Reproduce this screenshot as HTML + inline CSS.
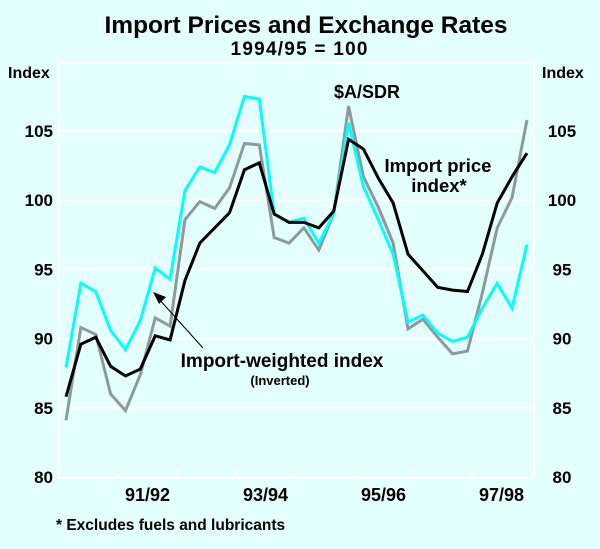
<!DOCTYPE html>
<html><head><meta charset="utf-8"><style>
body{margin:0;background:#e4ffff;}
svg text{font-family:"Liberation Sans",sans-serif;fill:#000;}
</style></head><body>
<svg width="600" height="544" viewBox="0 0 600 544">
<rect width="600" height="544" fill="#e4ffff"/>
<text x="306" y="33" text-anchor="middle" font-size="24.5" font-weight="bold">Import Prices and Exchange Rates</text>
<text x="299" y="55" text-anchor="middle" font-size="19" font-weight="bold" textLength="137">1994/95 = 100</text>
<text x="8" y="78" font-size="16" font-weight="bold">Index</text>
<text x="542" y="78" font-size="16" font-weight="bold">Index</text>
<g id="grid"></g>
<g id="series"></g>
<g id="labels"></g>
<text x="367" y="98" text-anchor="middle" font-size="18" font-weight="bold">$A/SDR</text>
<text x="438" y="172" text-anchor="middle" font-size="18.5" font-weight="bold">Import price</text>
<text x="439" y="192" text-anchor="middle" font-size="18.5" font-weight="bold">index*</text>
<text x="282" y="367" text-anchor="middle" font-size="19" font-weight="bold">Import-weighted index</text>
<text x="280" y="385" text-anchor="middle" font-size="13" font-weight="bold">(Inverted)</text>
<line x1="203" y1="348" x2="158" y2="298" stroke="#000" stroke-width="1"/>
<polygon points="153,292 166,297 159,304" fill="#000"/>
<text x="56" y="530" font-size="15.5" font-weight="bold">* Excludes fuels and lubricants</text>
</svg>
<script>
const yTicks=[80,85,90,95,100,105];
const xLabels=["91/92","93/94","95/96","97/98"];
const xLabelYears=[1.5,3.5,5.5,7.5];
const cyan=[87.9,94.0,93.4,90.6,89.2,91.3,95.1,94.3,100.7,102.4,102.0,104.0,107.5,107.3,99.0,98.4,98.7,96.9,99.0,105.6,101.0,98.6,96.1,91.2,91.7,90.4,89.8,90.1,92.2,94.0,92.2,96.8];
const gray=[84.1,90.8,90.3,86.0,84.8,87.4,91.5,90.9,98.6,99.9,99.4,100.9,104.1,104.0,97.3,96.9,98.0,96.4,99.0,106.8,101.7,99.5,96.9,90.7,91.4,90.1,88.9,89.1,93.3,98.0,100.2,105.8];
const black=[85.8,89.6,90.1,88.0,87.3,87.8,90.2,89.9,94.2,96.9,98.0,99.1,102.2,102.7,99.0,98.4,98.4,98.0,99.2,104.4,103.7,101.6,99.8,96.1,94.9,93.7,93.5,93.4,96.1,99.8,101.7,103.4];
const NS="http://www.w3.org/2000/svg";
const L=59,R=534,T=63,B=478;
function y(v){return 477-(v-80)*13.84;}
function x(i){return 66+i*14.87;}
function yearX(yr){return L+yr*59;}
function mk(tag,attrs,parent){const e=document.createElementNS(NS,tag);for(const k in attrs)e.setAttribute(k,attrs[k]);parent.appendChild(e);return e;}
const grid=document.getElementById('grid'),ser=document.getElementById('series'),lab=document.getElementById('labels');
yTicks.forEach(v=>{
 if(v>80){const g=mk('line',{x1:L,x2:R,y1:y(v),y2:y(v),stroke:'#fff','stroke-width':2},grid);
 
 }
 const t1=mk('text',{x:53,y:y(v)+6,'text-anchor':'end','font-size':17,'font-weight':'bold'},lab);t1.textContent=v;
 
 
 const t2=mk('text',{x:562,y:y(v)+6,'text-anchor':'middle','font-size':17,'font-weight':'bold'},lab);t2.textContent=v;
 
 
});
const frame=mk('rect',{x:L,y:T,width:R-L,height:B-T,fill:'none',stroke:'#fff','stroke-width':2},grid);


for(let k=1;k<8;k++){const tk=mk('line',{x1:yearX(k),x2:yearX(k),y1:B,y2:B-9,stroke:'#fff','stroke-width':2},grid);
 
 }
xLabels.forEach((s,i)=>{const t=mk('text',{x:yearX(xLabelYears[i]),y:501,'text-anchor':'middle','font-size':18,'font-weight':'bold'},lab);t.textContent=s;
 
 });
function line(arr,color,w,name){const p=mk('polyline',{points:arr.map((v,i)=>x(i)+','+y(v)).join(' '),fill:'none',stroke:color,'stroke-width':w,'stroke-linejoin':'miter'},ser);
 
 }
line(gray,'#8c9a9a',3,'sdr-line');
line(cyan,'#00ffff',3,'import-weighted-line');
line(black,'#000',3,'import-price-line');
</script>
</body></html>
